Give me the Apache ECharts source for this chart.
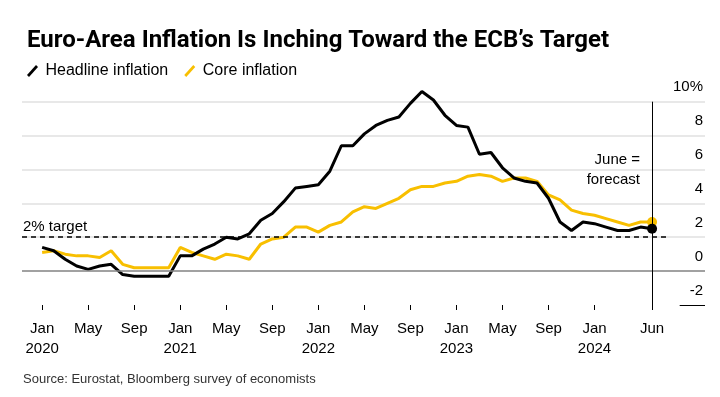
<!DOCTYPE html>
<html>
<head>
<meta charset="utf-8">
<title>Euro-Area Inflation</title>
<script src="https://cdn.jsdelivr.net/npm/echarts@6/dist/echarts.min.js"></script>
<style>
  html, body { margin: 0; padding: 0; background: #fff; }
  #chart { width: 720px; height: 397px; }
</style>
</head>
<body>
<div id="chart"></div>
<script>
// monthly, Jan 2020 .. Jun 2024 (index 0 .. 53), Jun 2024 is the forecast
var headline = [
  1.4, 1.2, 0.7, 0.3, 0.1, 0.3, 0.4, -0.2, -0.3, -0.3, -0.3, -0.3,
  0.9, 0.9, 1.3, 1.6, 2.0, 1.9, 2.2, 3.0, 3.4, 4.1, 4.9, 5.0,
  5.1, 5.9, 7.4, 7.4, 8.1, 8.6, 8.9, 9.1, 9.9, 10.6, 10.1, 9.2,
  8.6, 8.5, 6.9, 7.0, 6.1, 5.5, 5.3, 5.2, 4.3, 2.9, 2.4, 2.9,
  2.8, 2.6, 2.4, 2.4, 2.6, 2.5
]
var core = [
  1.1, 1.2, 1.0, 0.9, 0.9, 0.8, 1.2, 0.4, 0.2, 0.2, 0.2, 0.2,
  1.4, 1.1, 0.9, 0.7, 1.0, 0.9, 0.7, 1.6, 1.9, 2.0, 2.6, 2.6,
  2.3, 2.7, 2.9, 3.5, 3.8, 3.7, 4.0, 4.3, 4.8, 5.0, 5.0, 5.2,
  5.3, 5.6, 5.7, 5.6, 5.3, 5.5, 5.5, 5.3, 4.5, 4.2, 3.6, 3.4,
  3.3, 3.1, 2.9, 2.7, 2.9, 2.9
]
var tickMonths = [0, 4, 8, 12, 16, 20, 24, 28, 32, 36, 40, 44, 48, 53]
var tickLabels = ['Jan\n2020', 'May', 'Sep', 'Jan\n2021', 'May', 'Sep', 'Jan\n2022',
  'May', 'Sep', 'Jan\n2023', 'May', 'Sep', 'Jan\n2024', 'Jun']
var target = 2
var forecastMonth = 53
var xMin = -1.75
var xMax = 57.6
var font = 'Liberation Sans, Arial, sans-serif'

var chart = echarts.init(document.getElementById('chart'))
var last = headline.length - 1

function toPoints (arr) {
  return arr.map(function (v, i) { return [i, v] })
}

var option = {
  backgroundColor: '#fff',
  animation: false,
  title: {
    text: 'Euro-Area Inflation Is Inching Toward the ECB\u2019s Target',
    left: 22,
    top: 24,
    textStyle: { fontFamily: 'Roboto', fontWeight: 'bold', fontSize: 24, color: '#000' }
  },
  legend: {
    left: 22,
    top: 58,
    itemWidth: 12,
    itemHeight: 12,
    itemGap: 16,
    icon: 'path://M0,10 L9,0 L11,2 L2,12 Z',
    textStyle: { fontFamily: font, fontSize: 16, color: '#000', padding: [0, 0, 0, 2] },
    data: ['Headline inflation', 'Core inflation']
  },
  grid: { left: 22, right: 15, top: 101.7, bottom: 92 },
  xAxis: {
    type: 'value',
    min: xMin,
    max: xMax,
    axisLine: { show: false, onZero: false },
    splitLine: { show: false },
    axisTick: { show: true, length: 5, customValues: tickMonths, lineStyle: { color: '#000', width: 1 } },
    axisLabel: {
      customValues: tickMonths,
      fontFamily: font,
      fontSize: 15,
      color: '#000',
      lineHeight: 20,
      margin: 14,
      formatter: function (v) { return tickLabels[tickMonths.indexOf(v)] }
    }
  },
  yAxis: {
    type: 'value',
    position: 'right',
    min: -2,
    max: 10,
    interval: 2,
    axisLine: { show: false },
    axisTick: { show: false },
    splitLine: { show: true, showMinLine: false, lineStyle: { color: '#e0e0e0', width: 1.5 } },
    axisLabel: {
      inside: true,
      margin: 2,
      fontFamily: font,
      fontSize: 15,
      color: '#000',
      verticalAlign: 'bottom',
      padding: [0, 0, 7, 0],
      formatter: function (v) { return v === 10 ? '10%' : String(v) }
    }
  },
  graphic: [
    {
      type: 'text', left: 23, top: 219,
      style: { text: '2% target', fontFamily: font, fontSize: 15, fill: '#000' }
    },
    {
      type: 'text', right: 80, top: 152,
      style: { text: 'June =', fontFamily: font, fontSize: 15, fill: '#000' }
    },
    {
      type: 'text', right: 80, top: 172,
      style: { text: 'forecast', fontFamily: font, fontSize: 15, fill: '#000' }
    },
    {
      type: 'text', left: 23, top: 373,
      style: { text: 'Source: Eurostat, Bloomberg survey of economists', fontFamily: font, fontSize: 13, fill: '#333' }
    }
  ],
  series: [
    {
      name: 'Core inflation',
      type: 'line',
      z: 3,
      clip: false,
      data: toPoints(core),
      color: '#f8bf00',
      lineStyle: { width: 3, color: '#f8bf00' },
      symbol: 'circle',
      symbolSize: function (v, p) { return p.dataIndex === last ? 10 : 0 },
      showSymbol: true,
      itemStyle: { color: '#f8bf00' },
      markLine: {
        silent: true,
        symbol: ['none', 'none'],
        label: { show: false },
        data: [
          [{ coord: [xMin, 0], lineStyle: { color: '#8a8a8a', width: 1.5, type: 'solid' } }, { coord: [xMax, 0] }],
          [{ coord: [xMin, target], lineStyle: { color: '#000', width: 1.5, type: [5, 4] } }, { coord: [54.3, target] }],
          [{ coord: [55.4, -2], lineStyle: { color: '#000', width: 1, type: 'solid' } }, { coord: [xMax, -2] }],
          { xAxis: forecastMonth, lineStyle: { color: '#000', width: 1, type: 'solid' } }
        ]
      }
    },
    {
      name: 'Headline inflation',
      type: 'line',
      z: 4,
      clip: false,
      data: toPoints(headline),
      color: '#000',
      lineStyle: { width: 3, color: '#000' },
      symbol: 'circle',
      symbolSize: function (v, p) { return p.dataIndex === last ? 10 : 0 },
      showSymbol: true,
      itemStyle: { color: '#000' }
    }
  ]
}
chart.setOption(option)
</script>
</body>
</html>
